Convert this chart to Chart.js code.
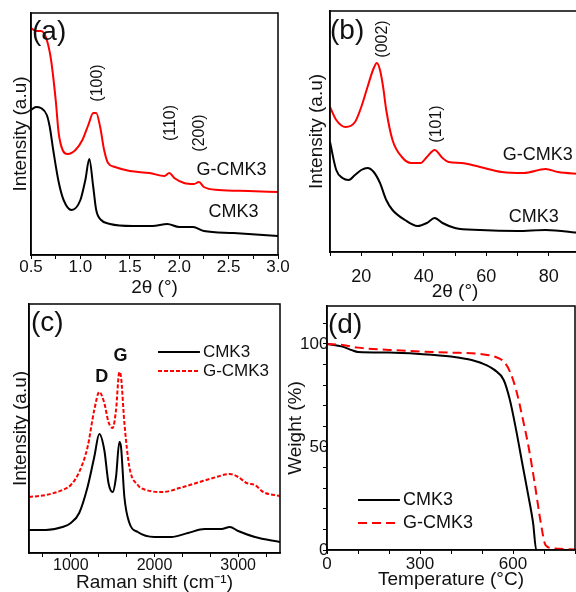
<!DOCTYPE html>
<html>
<head>
<meta charset="utf-8">
<script src="https://cdn.jsdelivr.net/npm/chart.js@4.4.1/dist/chart.umd.min.js"></script>
<style>
  html, body { margin: 0; padding: 0; background: #fff; overflow: hidden; }
  #wrap { position: relative; width: 576px; height: 592px; overflow: hidden; }
  #wrap canvas { position: absolute; }
  .tag { position: absolute; font-family: "Liberation Sans", Arial, sans-serif; font-size: 28px; line-height: 1; color: #111; }
</style>
</head>
<body>
<div id="wrap">
  <canvas id="panelA" width="296" height="300" style="left:0;top:0"></canvas>
  <canvas id="panelB" width="300" height="303" style="left:290px;top:0"></canvas>
  <canvas id="panelC" width="290" height="298" style="left:0;top:296px"></canvas>
  <canvas id="panelD" width="297" height="296" style="left:283px;top:296px"></canvas>
  <div class="tag" style="left:32px;top:17px">(a)</div>
  <div class="tag" style="left:330px;top:16px">(b)</div>
  <div class="tag" style="left:31px;top:308px">(c)</div>
  <div class="tag" style="left:328px;top:310px">(d)</div>
</div>
<script>
// (a) low-angle XRD
const lowAngleTicks = [0.5, 1.0, 1.5, 2.0, 2.5, 3.0];
const lowAngleGX = [0.50,0.55,0.60,0.65,0.70,0.75,0.78,0.82,0.87,0.95,1.02,1.08,1.13,1.16,1.20,1.24,1.28,1.35,1.5,1.7,1.85,1.90,1.95,2.05,2.15,2.20,2.25,2.4,2.7,3.0];
const lowAngleGY = [227,224,224,218,197,155,122,105,101,105,115,130,142,142,128,105,92,88,84,82,79,82,77,72,71,73,68,65,64,63];
const lowAngleCX = [0.50,0.55,0.60,0.66,0.69,0.725,0.78,0.83,0.91,1.00,1.05,1.09,1.13,1.16,1.21,1.30,1.53,1.73,1.88,2.0,2.14,2.25,2.55,3.0];
const lowAngleCY = [145,148,147,140,128,105,73,55,45,55,75,96,68,45,35,31,29,29,31,28,28,24,22,19];

// (b) wide-angle XRD
const wideAngleTicks = [20, 40, 60, 80];
const wideAngleGX = [10,12,15,18,20,22,24,25,26,27,28,30,33,36,39,41,43.5,46,48,52,58,65,72,79,83,90];
const wideAngleGY = [145,132,125,130,145,165,184,189,182,165,142,112,95,89,89,95,102,94,90,89,85,80,79,83,80,78];
const wideAngleCX = [10,12,14,16,18,20,22,24,26,28,30,34,38,41,43.5,46,50,58,70,79,90];
const wideAngleCY = [110,82,74,72,77,82,84,80,69,52,42,32,26,29,34,29,24,22,21,22,19];

// (c) Raman
const ramanTicks = [1000, 2000, 3000];
const ramanGX = [500,700,900,1000,1100,1200,1280,1340,1400,1450,1500,1540,1580,1600,1640,1700,1800,1900,2100,2300,2500,2700,2900,3000,3100,3200,3300,3500];
const ramanGY = [56,58,63,68,81,106,143,161,150,131,125,143,181,176,130,86,68,63,61,65,70,75,79,76,70,68,61,57];
const ramanCX = [500,700,900,1000,1100,1200,1280,1340,1400,1450,1500,1540,1580,1600,1640,1700,1800,2000,2200,2400,2600,2800,2900,3000,3200,3500];
const ramanCY = [23,23,26,30,40,66,96,119,103,70,61,76,111,106,56,30,21,16,16,20,24,24,26,22,16,11];

// (d) TGA
const tempTicks = [0, 300, 600];
const weightTicks = [0, 50, 100];
const tgaCX = [0,50,80,100,200,300,400,450,500,540,570,590,610,630,650,665,675,700,800];
const tgaCY = [100,98.7,97,96.1,95.8,95.1,93.9,92.7,90.6,87.4,82.5,72.8,58.3,42,25.9,12.9,0,0,0];
const tgaGX = [0,50,100,200,300,400,500,540,570,590,610,630,650,670,690,705,730,800];
const tgaGY = [100,99.5,98.2,97.1,96.3,95.8,95,93.9,91.4,86.6,77.7,64.7,50.2,32.4,12.9,2.4,0.8,0.3];

const FONT = '"Liberation Sans", Arial, sans-serif';
const RED = '#ff0000';

const pts = (xs, ys) => xs.map((x, i) => ({ x, y: ys[i] }));

function series(label, xs, ys, color, dash) {
  return {
    label, data: pts(xs, ys), borderColor: color, borderWidth: 2,
    borderDash: dash || [], pointRadius: 0, fill: false,
    cubicInterpolationMode: 'monotone'
  };
}

// majors plus evenly spaced minor ticks between them
function tickBuilder(majors, minorsPer) {
  return scale => {
    const sub = (majors[1] - majors[0]) / (minorsPer + 1);
    const out = [];
    const k0 = Math.ceil((scale.min - majors[0]) / sub - 1e-9);
    for (let k = k0; majors[0] + k * sub <= scale.max + 1e-9; k++) {
      out.push({ value: majors[0] + k * sub });
    }
    scale.ticks = out;
  };
}

function isMajor(v, majors) {
  return majors.some(m => Math.abs(m - v) < 1e-6);
}

function xAxis(c) {
  return {
    type: 'linear', min: c.min, max: c.max,
    afterFit: s => { s.height = c.h; },
    afterBuildTicks: tickBuilder(c.majors, c.minors),
    border: { display: true, color: '#000', width: 1.5 },
    grid: { drawOnChartArea: false, color: '#000', tickLength: 4 },
    ticks: {
      autoSkip: false, maxRotation: 0, color: '#111', padding: c.pad,
      font: { family: FONT, size: c.size },
      callback: v => isMajor(v, c.majors) ? (c.fmt ? c.fmt(v) : String(Math.round(v))) : ''
    },
    title: { display: true, text: c.title, color: '#111', padding: { top: 0, bottom: c.tpad }, font: { family: FONT, size: 19 } }
  };
}

function yAxisBlank(max, w, tpad) {
  return {
    min: 0, max,
    afterFit: s => { s.width = w; },
    border: { display: true, color: '#000', width: 1.5 },
    grid: { display: false, drawTicks: false },
    ticks: { display: false },
    title: { display: true, text: 'Intensity (a.u)', color: '#111', padding: { top: tpad, bottom: 0 }, font: { family: FONT, size: 19 } }
  };
}

// box round the plot area
const frame = {
  id: 'frame',
  afterDraw(chart) {
    const { ctx, chartArea: a } = chart;
    ctx.save();
    ctx.strokeStyle = '#000';
    ctx.lineWidth = 1.5;
    ctx.strokeRect(a.left, a.top, a.right - a.left, a.bottom - a.top);
    ctx.restore();
  }
};

// text placed at data coordinates
function notes(items) {
  return {
    id: 'notes',
    afterDatasetsDraw(chart) {
      const { ctx, scales: { x, y } } = chart;
      items.forEach(n => {
        ctx.save();
        ctx.translate(x.getPixelForValue(n.x), y.getPixelForValue(n.y));
        if (n.rot) ctx.rotate(-Math.PI / 2);
        ctx.font = (n.bold ? 'bold ' : '') + n.size + 'px ' + FONT;
        ctx.fillStyle = '#111';
        ctx.textAlign = 'center';
        ctx.textBaseline = 'middle';
        ctx.fillText(n.text, 0, 0);
        ctx.restore();
      });
    }
  };
}

// little legend inside the plot area, positions as fractions of it
function keyBox(fx0, fx1, fys, size) {
  return {
    id: 'keyBox',
    afterDraw(chart) {
      const { ctx, chartArea: a } = chart;
      const W = a.right - a.left, H = a.bottom - a.top;
      const order = chart.data.datasets.slice().sort((p, q) => p.label.length - q.label.length);
      order.forEach((ds, i) => {
        const yy = a.top + fys[i] * H;
        ctx.save();
        ctx.strokeStyle = ds.borderColor;
        ctx.lineWidth = ds.borderWidth;
        ctx.setLineDash(ds.borderDash);
        ctx.beginPath();
        ctx.moveTo(a.left + fx0 * W, yy);
        ctx.lineTo(a.left + fx1 * W, yy);
        ctx.stroke();
        ctx.setLineDash([]);
        ctx.font = size + 'px ' + FONT;
        ctx.fillStyle = '#111';
        ctx.textBaseline = 'middle';
        ctx.fillText(ds.label, a.left + fx1 * W + 3, yy);
        ctx.restore();
      });
    }
  };
}

function baseOpts(pad, scales) {
  return {
    responsive: false, animation: false,
    layout: { padding: pad },
    plugins: { legend: { display: false }, tooltip: { enabled: false } },
    scales
  };
}

// (a)
new Chart(document.getElementById('panelA'), {
  type: 'line',
  data: { datasets: [
    series('G-CMK3', lowAngleGX, lowAngleGY, RED),
    series('CMK3', lowAngleCX, lowAngleCY, '#000')
  ] },
  options: baseOpts({ top: 13, right: 18, left: 0, bottom: 0 }, {
    x: xAxis({ min: 0.5, max: 3.0, majors: lowAngleTicks, minors: 1, h: 45, pad: -2, size: 17, tpad: 1, title: '2θ (°)', fmt: v => v.toFixed(1) }),
    y: yAxisBlank(242, 31, 9)
  }),
  plugins: [frame, notes([
    { x: 1.17, y: 172, text: '(100)', rot: true, size: 16 },
    { x: 1.91, y: 132, text: '(110)', rot: true, size: 16 },
    { x: 2.21, y: 122, text: '(200)', rot: true, size: 16 },
    { x: 2.53, y: 85, text: 'G-CMK3', size: 18 },
    { x: 2.55, y: 43, text: 'CMK3', size: 18 }
  ])]
});

// (b)
new Chart(document.getElementById('panelB'), {
  type: 'line',
  data: { datasets: [
    series('G-CMK3', wideAngleGX, wideAngleGY, RED),
    series('CMK3', wideAngleCX, wideAngleCY, '#000')
  ] },
  options: baseOpts({ top: 11, right: 10, left: 0, bottom: 0 }, {
    x: xAxis({ min: 10, max: 90, majors: wideAngleTicks, minors: 1, h: 51, pad: 10, size: 18, tpad: 0, title: '2θ (°)' }),
    y: yAxisBlank(241, 40, 15)
  }),
  plugins: [frame, notes([
    { x: 26.7, y: 213, text: '(002)', rot: true, size: 16 },
    { x: 44.2, y: 128, text: '(101)', rot: true, size: 16 },
    { x: 76.5, y: 97, text: 'G-CMK3', size: 18 },
    { x: 75.2, y: 35, text: 'CMK3', size: 18 }
  ])]
});

// (c)
new Chart(document.getElementById('panelC'), {
  type: 'line',
  data: { datasets: [
    series('G-CMK3', ramanGX, ramanGY, RED, [4, 2]),
    series('CMK3', ramanCX, ramanCY, '#000')
  ] },
  options: baseOpts({ top: 8, right: 10, left: 0, bottom: 0 }, {
    x: xAxis({ min: 500, max: 3500, majors: ramanTicks, minors: 2, h: 41, pad: -1, size: 16, tpad: 0, title: 'Raman shift (cm⁻¹)' }),
    y: yAxisBlank(249, 29, 9)
  }),
  plugins: [frame, notes([
    { x: 1369, y: 176, text: 'D', bold: true, size: 18 },
    { x: 1595, y: 197, text: 'G', bold: true, size: 18 }
  ]), keyBox(0.514, 0.681, [0.193, 0.269], 17)]
});

// (d)
new Chart(document.getElementById('panelD'), {
  type: 'line',
  data: { datasets: [
    series('G-CMK3', tgaGX, tgaGY, RED, [9, 5]),
    series('CMK3', tgaCX, tgaCY, '#000')
  ] },
  options: baseOpts({ top: 10, right: 5, left: 0, bottom: 0 }, {
    x: xAxis({ min: 0, max: 800, majors: tempTicks, minors: 2, h: 42, pad: 0, size: 17, tpad: 1, title: 'Temperature (°C)' }),
    y: {
      min: 0, max: 118.4,
      afterFit: s => { s.width = 44; },
      afterBuildTicks: tickBuilder(weightTicks, 4),
      border: { display: true, color: '#000', width: 1.5 },
      grid: { drawOnChartArea: false, color: '#000', tickLength: 4 },
      ticks: {
        autoSkip: false, color: '#111', mirror: true, crossAlign: 'far', padding: -27,
        font: { family: FONT, size: 17 },
        callback: v => isMajor(v, weightTicks) ? String(Math.round(v)) : ''
      },
      title: { display: true, text: 'Weight (%)', color: '#111', padding: { top: 1, bottom: 0 }, font: { family: FONT, size: 19 } }
    }
  }),
  plugins: [frame, keyBox(0.125, 0.294, [0.795, 0.889], 18)]
});
</script>
</body>
</html>
